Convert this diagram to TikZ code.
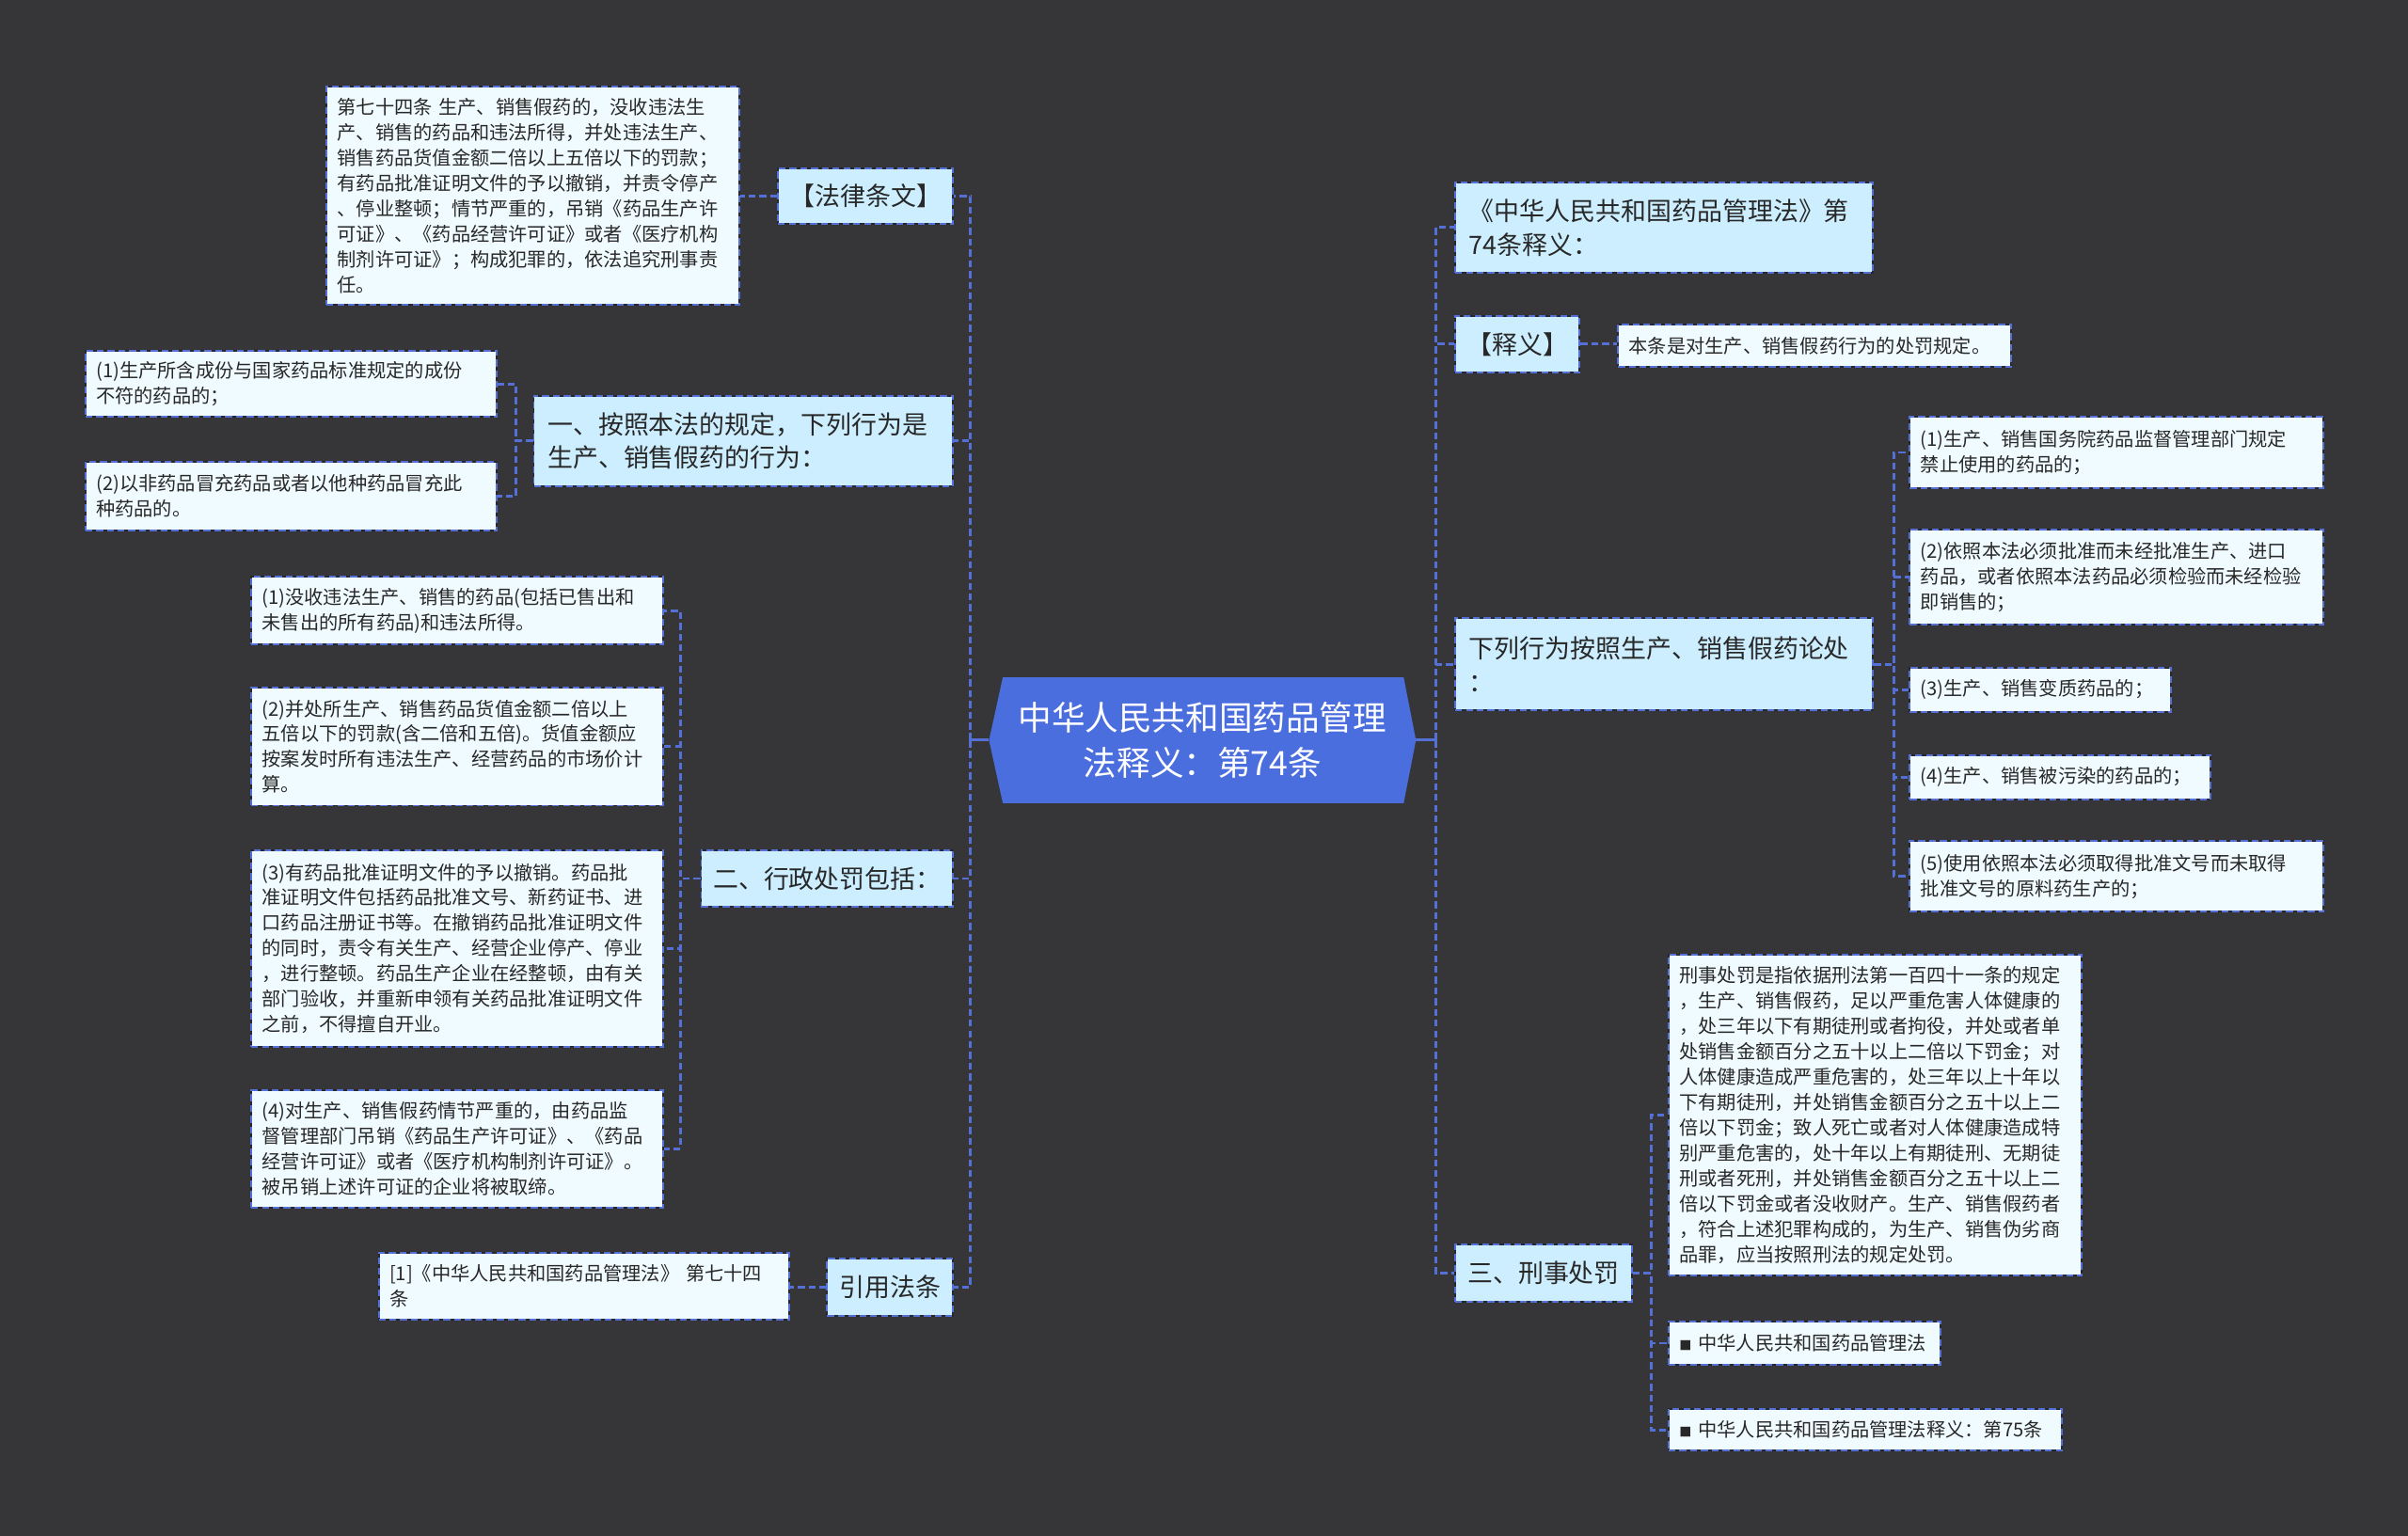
\documentclass[tikz,border=0pt]{standalone}
\usepackage{fontspec}
\setmainfont{Noto Sans CJK SC}
\definecolor{bg}{RGB}{54,53,56}
\definecolor{lineblue}{RGB}{84,112,214}
\definecolor{boxdark}{RGB}{40,40,44}
\definecolor{branchfill}{RGB}{204,238,255}
\definecolor{leaffill}{RGB}{240,251,255}
\definecolor{rootfill}{RGB}{75,110,222}
\definecolor{txt}{RGB}{40,40,40}
\tikzset{
  box/.style={anchor=north west, inner ysep=0pt, align=left, draw=boxdark, line width=1.2pt,
    postaction={draw=lineblue, dash pattern=on 4.5pt off 2.5pt, line width=1.2pt}},
  leaf/.style={box, fill=leaffill, text=txt, font=\fontsize{12.4pt}{16.5pt}\selectfont, inner xsep=7pt},
  branch/.style={box, fill=branchfill, text=txt, font=\fontsize{16.5pt}{22pt}\selectfont, inner xsep=9pt},
  sbranch/.style={branch, inner xsep=2pt, align=center},
  conn/.style={draw=lineblue, line width=1.7pt, dash pattern=on 4.5pt off 2.5pt},
  stub/.style={draw=lineblue, line width=1.8pt},
}
\begin{document}
\begin{tikzpicture}[x=1pt,y=-1pt]
\fill[bg] (0,0) rectangle (1568,1000);
\useasboundingbox (0,0) rectangle (1568,1000);

% root
\fill[rootfill] (644,482) -- (653,441) -- (914,441) -- (922,482) -- (914,523) -- (653,523) -- cycle;
\node[text=white, font=\fontsize{21.8pt}{29pt}\selectfont, align=center] (root) at (783,482)
  {中华人民共和国药品管理\\法释义：第74条};
\coordinate (rootL) at (644,482);
\coordinate (rootR) at (922,482);
\coordinate (lj) at (632,482);
\coordinate (rj) at (935,482);

% ---------- left side ----------
\node[sbranch, minimum width=114pt, minimum height=36pt] (law) at (506,109) {【法律条文】};
\node[leaf, text width=255pt, minimum height=142pt] (lawtext) at (212,56)
  {第七十四条~生产、销售假药的，没收违法生\\产、销售的药品和违法所得，并处违法生产、\\销售药品货值金额二倍以上五倍以下的罚款；\\有药品批准证明文件的予以撤销，并责令停产\\、停业整顿；情节严重的，吊销《药品生产许\\可证》、《药品经营许可证》或者《医疗机构\\制剂许可证》；构成犯罪的，依法追究刑事责\\任。};

\node[branch, text width=255pt, minimum height=59pt] (one) at (347,257)
  {一、按照本法的规定，下列行为是\\生产、销售假药的行为：};
\node[leaf, text width=254pt, minimum height=43pt] (one1) at (55,228)
  {(1)生产所含成份与国家药品标准规定的成份\\不符的药品的；};
\node[leaf, text width=254pt, minimum height=45pt] (one2) at (55,300)
  {(2)以非药品冒充药品或者以他种药品冒充此\\种药品的。};

\node[sbranch, minimum width=164pt, minimum height=37pt] (two) at (456,553) {二、行政处罚包括：};
\node[leaf, text width=254pt, minimum height=44pt] (two1) at (163,375)
  {(1)没收违法生产、销售的药品(包括已售出和\\未售出的所有药品)和违法所得。};
\node[leaf, text width=254pt, minimum height=77pt] (two2) at (163,447)
  {(2)并处所生产、销售药品货值金额二倍以上\\五倍以下的罚款(含二倍和五倍)。货值金额应\\按案发时所有违法生产、经营药品的市场价计\\算。};
\node[leaf, text width=254pt, minimum height=128pt] (two3) at (163,553)
  {(3)有药品批准证明文件的予以撤销。药品批\\准证明文件包括药品批准文号、新药证书、进\\口药品注册证书等。在撤销药品批准证明文件\\的同时，责令有关生产、经营企业停产、停业\\，进行整顿。药品生产企业在经整顿，由有关\\部门验收，并重新申领有关药品批准证明文件\\之前，不得擅自开业。};
\node[leaf, text width=254pt, minimum height=77pt] (two4) at (163,709)
  {(4)对生产、销售假药情节严重的，由药品监\\督管理部门吊销《药品生产许可证》、《药品\\经营许可证》或者《医疗机构制剂许可证》。\\被吊销上述许可证的企业将被取缔。};

\node[sbranch, minimum width=82pt, minimum height=37pt] (cite) at (538,819) {引用法条};
\node[leaf, text width=253pt, minimum height=44pt] (citetext) at (246,815)
  {[1]《中华人民共和国药品管理法》~第七十四\\条};

% ---------- right side ----------
\node[branch, text width=254pt, minimum height=59pt] (r1) at (947,118)
  {《中华人民共和国药品管理法》第\\74条释义：};
\node[sbranch, minimum width=81pt, minimum height=37pt] (shiyi) at (947,205) {【释义】};
\node[leaf, text width=242pt, minimum height=27pt] (shiyitext) at (1053,211)
  {本条是对生产、销售假药行为的处罚规定。};

\node[branch, text width=254pt, minimum height=60pt] (r3) at (947,402)
  {下列行为按照生产、销售假药论处\\：};
\node[leaf, text width=255pt, minimum height=46pt] (r31) at (1243,271)
  {(1)生产、销售国务院药品监督管理部门规定\\禁止使用的药品的；};
\node[leaf, text width=255pt, minimum height=62pt] (r32) at (1243,344)
  {(2)依照本法必须批准而未经批准生产、进口\\药品，或者依照本法药品必须检验而未经检验\\即销售的；};
\node[leaf, text width=156pt, minimum height=29pt] (r33) at (1243,434)
  {(3)生产、销售变质药品的；};
\node[leaf, text width=182pt, minimum height=29pt] (r34) at (1243,491)
  {(4)生产、销售被污染的药品的；};
\node[leaf, text width=255pt, minimum height=46pt] (r35) at (1243,547)
  {(5)使用依照本法必须取得批准文号而未取得\\批准文号的原料药生产的；};

\node[sbranch, minimum width=115pt, minimum height=37pt] (r4) at (947,810) {三、刑事处罚};
\node[leaf, text width=255pt, minimum height=209pt] (r41) at (1086,621)
  {刑事处罚是指依据刑法第一百四十一条的规定\\，生产、销售假药，足以严重危害人体健康的\\，处三年以下有期徒刑或者拘役，并处或者单\\处销售金额百分之五十以上二倍以下罚金；对\\人体健康造成严重危害的，处三年以上十年以\\下有期徒刑，并处销售金额百分之五十以上二\\倍以下罚金；致人死亡或者对人体健康造成特\\别严重危害的，处十年以上有期徒刑、无期徒\\刑或者死刑，并处销售金额百分之五十以上二\\倍以下罚金或者没收财产。生产、销售假药者\\，符合上述犯罪构成的，为生产、销售伪劣商\\品罪，应当按照刑法的规定处罚。};
\node[leaf, text width=163pt, minimum height=28pt] (r42) at (1086,860)
  {{\fontsize{8pt}{8pt}\selectfont ■}~中华人民共和国药品管理法};
\node[leaf, text width=242pt, minimum height=27pt] (r43) at (1086,917)
  {{\fontsize{8pt}{8pt}\selectfont ■}~中华人民共和国药品管理法释义：第75条};

% ---------- connectors ----------
\draw[stub] (rootL) -- (lj) ++(0,-5) -- ++(0,10);
\draw[stub] (rootR) -- (rj) ++(0,-5) -- ++(0,10);
\foreach \b in {law,one,two,cite} \draw[conn] (lj) |- (\b.east);
\foreach \b in {r1,shiyi,r3,r4} \draw[conn] (rj) |- (\b.west);

\draw[conn] (law.west) -- (law.west -| lawtext.east);
\draw[conn] (cite.west) -- (cite.west -| citetext.east);
\draw[conn] (shiyi.east) -- (shiyi.east -| shiyitext.west);

\foreach \c in {one1,one2} \draw[conn] (one.west) -- ++(-11,0) |- (\c.east);
\foreach \c in {two1,two2,two3,two4} \draw[conn] (two.west) -- ++(-13,0) |- (\c.east);
\foreach \c in {r31,r32,r33,r34,r35} \draw[conn] (r3.east) -- ++(13,0) |- (\c.west);
\foreach \c in {r41,r42,r43} \draw[conn] (r4.east) -- ++(12,0) |- (\c.west);
\end{tikzpicture}
\end{document}
